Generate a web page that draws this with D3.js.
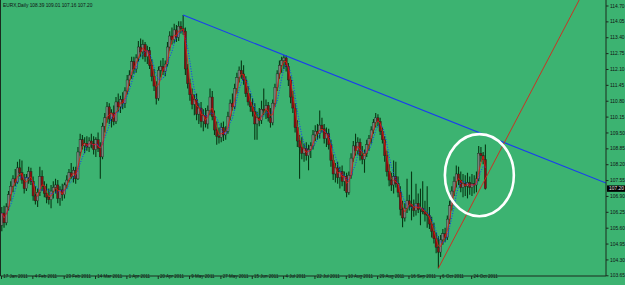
<!DOCTYPE html>
<html><head><meta charset="utf-8">
<script src="https://cdn.jsdelivr.net/npm/d3@7"></script>
<style>html,body{margin:0;padding:0;background:#3cb371;overflow:hidden}svg{display:block}</style>
</head><body>
<svg id="c" width="625" height="285"></svg>
<script>
const symbolName = "EURX,Daily";
const dateLabels = ["17 Jan 2011","4 Feb 2011","23 Feb 2011","14 Mar 2011","1 Apr 2011","20 Apr 2011","9 May 2011","27 May 2011","15 Jun 2011","4 Jul 2011","22 Jul 2011","10 Aug 2011","29 Aug 2011","16 Sep 2011","6 Oct 2011","24 Oct 2011"];
const dateLabelBars = [0,14,28,42,56,70,84,98,112,126,140,154,168,182,196,210];
const priceTicks = [114.70,114.05,113.40,112.75,112.10,111.45,110.80,110.15,109.50,108.85,108.20,107.55,106.90,106.25,105.60,104.95,104.30,103.65];

const opens = [105.70,106.20,105.80,106.45,106.95,107.30,107.60,107.45,108.05,107.85,107.55,107.20,107.65,107.90,107.50,106.90,106.70,107.05,107.70,107.30,107.00,106.85,106.75,107.10,107.25,107.35,106.80,107.15,106.95,107.35,107.55,107.85,107.70,107.95,107.60,108.70,109.20,108.95,109.05,108.90,109.15,109.05,108.80,109.20,108.85,108.50,109.75,110.10,110.55,110.05,110.30,109.95,110.75,110.55,110.85,110.70,111.20,111.65,111.85,112.40,112.10,112.55,113.00,112.80,113.10,112.60,112.85,112.25,111.80,111.40,110.90,112.05,112.20,112.00,112.30,113.00,113.45,113.30,113.70,113.40,113.85,113.75,113.65,112.10,111.50,111.05,110.65,110.85,110.25,110.50,109.95,110.20,109.85,110.40,110.95,110.15,109.60,109.35,109.30,109.70,109.40,109.55,110.15,110.70,110.55,111.30,111.75,112.05,111.90,111.65,111.10,110.75,110.55,110.35,109.85,110.10,110.00,110.45,110.40,110.60,110.10,109.90,110.70,111.35,111.90,112.25,112.45,112.55,112.20,111.65,110.95,110.50,109.70,109.15,108.90,108.65,108.85,108.55,108.80,108.95,109.40,109.55,109.45,109.80,109.65,109.25,109.45,109.00,108.35,107.80,108.05,107.65,107.90,107.50,107.70,107.05,107.75,108.45,108.95,108.75,109.10,108.55,108.40,108.65,109.00,109.25,109.60,109.90,110.10,109.95,109.55,109.20,108.55,107.90,107.55,107.35,107.70,107.40,107.05,106.35,106.00,106.40,106.70,106.55,106.45,106.30,106.60,106.35,106.40,106.25,106.15,106.10,105.75,105.45,105.15,104.80,104.60,105.10,105.35,105.20,105.95,106.50,107.10,107.50,107.80,107.55,107.25,107.40,107.30,107.45,107.25,107.40,107.35,107.60,108.65,108.55,108.39];
const highs = [106.45,106.50,106.60,107.10,107.50,107.75,108.00,108.30,108.40,108.35,107.80,107.80,108.10,108.05,107.70,107.30,107.20,108.10,107.95,107.50,107.40,107.20,107.35,107.50,107.60,107.55,107.30,107.40,107.45,107.75,108.00,108.25,108.10,108.10,108.90,109.45,109.40,109.30,109.35,109.30,109.45,109.35,109.30,109.50,109.10,109.90,110.30,110.75,110.70,110.45,110.60,110.95,111.10,111.00,111.15,111.35,111.85,112.05,112.60,112.60,112.70,113.25,113.35,113.30,113.20,113.05,113.00,112.50,112.10,111.60,112.20,112.45,112.55,112.45,113.20,113.65,113.80,113.95,113.90,114.05,114.05,114.31,113.80,112.30,111.70,111.30,111.05,111.10,110.70,110.75,110.45,110.50,110.60,111.30,111.20,110.40,109.95,109.70,109.90,109.95,109.75,110.35,110.85,111.10,111.50,111.95,112.20,112.45,112.25,111.80,111.40,111.10,110.90,110.70,110.35,110.50,110.80,111.30,110.85,110.75,110.50,110.85,111.50,112.05,112.45,112.60,112.67,112.65,112.35,111.80,111.20,110.70,110.00,109.40,109.30,109.05,109.10,109.00,109.10,109.60,109.80,109.85,110.40,110.10,109.85,109.70,109.65,109.20,108.60,108.25,108.30,108.10,108.15,107.90,107.85,107.90,108.65,109.15,109.45,109.30,109.25,108.95,108.80,109.20,109.40,109.75,110.05,110.30,110.25,110.10,109.70,109.35,108.75,108.20,107.85,108.35,108.30,107.70,107.30,106.70,106.60,107.60,106.95,107.90,106.75,107.40,107.00,107.20,107.50,106.70,107.30,106.45,106.05,105.80,105.40,105.25,105.30,105.55,105.60,106.10,106.70,107.30,107.70,108.15,108.10,107.90,107.80,107.75,107.85,107.70,107.80,107.75,107.90,108.95,108.90,108.70,109.01];
const lows = [105.45,105.60,105.70,106.30,106.70,107.05,107.30,107.40,107.70,107.40,107.00,107.10,107.40,107.35,106.70,106.55,106.45,106.90,107.10,106.85,106.60,106.55,106.40,106.80,107.00,106.60,106.50,106.70,106.80,107.20,107.45,107.60,107.45,107.40,107.55,108.55,108.80,108.65,108.75,108.70,108.85,108.60,108.50,108.70,107.60,108.40,109.50,109.90,109.85,109.70,109.80,109.85,110.35,110.30,110.45,110.50,111.05,111.40,111.70,111.90,111.95,112.40,112.60,112.50,112.40,112.30,112.10,111.60,111.20,110.65,110.80,111.75,111.85,111.80,112.20,112.85,113.10,113.15,113.20,113.25,113.55,113.50,111.85,111.30,110.80,110.45,110.20,110.00,109.85,109.70,109.55,109.70,109.65,110.20,110.00,109.40,109.00,109.05,109.10,109.15,109.20,109.45,110.00,110.40,110.45,111.10,111.55,111.70,111.45,110.95,110.60,110.35,110.15,109.20,109.20,109.75,109.85,110.20,110.05,109.95,109.70,109.80,110.55,111.20,111.70,111.95,112.10,112.00,111.40,110.70,110.30,109.50,108.90,107.60,108.40,108.30,108.35,107.95,108.45,108.80,109.15,109.20,109.25,109.50,109.05,108.90,108.80,108.10,107.55,107.45,107.40,107.20,107.30,107.10,106.85,106.95,107.60,108.30,108.55,108.60,108.35,108.20,107.85,108.50,108.75,109.05,109.45,109.70,109.75,109.40,109.05,108.30,107.70,107.30,107.10,107.00,107.25,106.85,106.10,105.62,105.85,106.20,106.30,105.90,106.05,106.10,106.20,105.70,106.15,105.85,105.60,105.55,105.20,104.95,104.55,103.94,104.40,104.90,105.00,105.10,105.75,106.30,106.90,107.25,107.35,107.05,106.85,106.90,106.80,106.95,106.90,107.00,107.05,107.50,108.30,108.20,107.16];
const closes = [106.20,105.80,106.45,106.95,107.30,107.60,107.45,108.05,107.85,107.55,107.20,107.65,107.90,107.50,106.90,106.70,107.05,107.70,107.30,107.00,106.85,106.75,107.10,107.25,107.35,106.80,107.15,106.95,107.35,107.55,107.85,107.70,107.95,107.60,108.70,109.20,108.95,109.05,108.90,109.15,109.05,108.80,109.20,108.85,108.50,109.75,110.10,110.55,110.05,110.30,109.95,110.75,110.55,110.85,110.70,111.20,111.65,111.85,112.40,112.10,112.55,113.00,112.80,113.10,112.60,112.85,112.25,111.80,111.40,110.90,112.05,112.20,112.00,112.30,113.00,113.45,113.30,113.70,113.40,113.85,113.75,113.65,112.10,111.50,111.05,110.65,110.85,110.25,110.50,109.95,110.20,109.85,110.40,110.95,110.15,109.60,109.35,109.30,109.70,109.40,109.55,110.15,110.70,110.55,111.30,111.75,112.05,111.90,111.65,111.10,110.75,110.55,110.35,109.85,110.10,110.00,110.45,110.40,110.60,110.10,109.90,110.70,111.35,111.90,112.25,112.45,112.55,112.20,111.65,110.95,110.50,109.70,109.15,108.90,108.65,108.85,108.55,108.80,108.95,109.40,109.55,109.45,109.80,109.65,109.25,109.45,109.00,108.35,107.80,108.05,107.65,107.90,107.50,107.70,107.05,107.75,108.45,108.95,108.75,109.10,108.55,108.40,108.65,109.00,109.25,109.60,109.90,110.10,109.95,109.55,109.20,108.55,107.90,107.55,107.35,107.70,107.40,107.05,106.35,106.00,106.40,106.70,106.55,106.45,106.30,106.60,106.35,106.40,106.25,106.15,106.10,105.75,105.45,105.15,104.80,104.60,105.10,105.35,105.20,105.95,106.50,107.10,107.50,107.80,107.55,107.25,107.40,107.30,107.45,107.25,107.40,107.35,107.60,108.65,108.55,108.39,107.20];

const blueTrendPoints = [[81,114.31],[126,112.67]];
const redTrendPoints = [[195,103.94],[256.6,114.70]];
const circleCenter = [213.3,107.75];
const circleRadius = [15.4,1.68]; // bars, price
const fastPeriod = 3, slowPeriod = 5;

// layout
const W=625,H=285, plotL=0.5, plotR=606, plotT=0, plotB=276;
const svg = d3.select("#c");
svg.append("rect").attr("width",W).attr("height",H).attr("fill","#3cb371");

const n = closes.length;
const x = d3.scaleLinear().domain([0,216]).range([1.8,485.4]);
const y = d3.scaleLinear().domain([103.65,114.70]).range([275.3,5.5]);

svg.append("clipPath").attr("id","clip").append("rect")
  .attr("x",plotL).attr("y",plotT).attr("width",plotR-plotL).attr("height",plotB-plotT);
const g = svg.append("g").attr("clip-path","url(#clip)");

const idx = d3.range(n);
// candles
const wickCol = "#073814";
g.append("g").selectAll("line").data(idx).join("line")
  .attr("x1",i=>x(i)).attr("x2",i=>x(i))
  .attr("y1",i=>y(highs[i])).attr("y2",i=>y(lows[i]))
  .attr("stroke",wickCol).attr("stroke-width",1.1);
g.append("g").selectAll("rect").data(idx).join("rect")
  .attr("x",i=>x(i)-1.1).attr("width",2.2)
  .attr("y",i=>y(Math.max(opens[i],closes[i])))
  .attr("height",i=>Math.max(0.8,Math.abs(y(opens[i])-y(closes[i]))))
  .attr("fill",i=>closes[i]>=opens[i]?"#7c7f7c":"#861010")
  .attr("stroke","#14261a").attr("stroke-width",0.4);

// moving averages
function sma(p){return idx.map(i=>d3.mean(closes.slice(Math.max(0,i-p+1),i+1)));}
const fast = sma(fastPeriod), slow = sma(slowPeriod);
const line = d3.line().x((d,i)=>x(i)).y(d=>y(d));
g.append("path").attr("d",line(slow)).attr("fill","none")
  .attr("stroke","#1530ff").attr("stroke-width",1).attr("stroke-dasharray","1,1.6");
g.append("path").attr("d",line(fast)).attr("fill","none")
  .attr("stroke","#e41b14").attr("stroke-width",0.8);

// trend lines
function extend(pts, endIdx){
  const [a,b]=pts; const s=(b[1]-a[1])/(b[0]-a[0]);
  return [[a[0],a[1]],[endIdx,a[1]+s*(endIdx-a[0])]];
}
const blue = extend(blueTrendPoints, x.invert(plotR));
const redS = (redTrendPoints[1][1]-redTrendPoints[0][1])/(redTrendPoints[1][0]-redTrendPoints[0][0]);
const redEndIdx = redTrendPoints[0][0] + (y.invert(plotT-2)-redTrendPoints[0][1])/redS;
const red = extend(redTrendPoints, redEndIdx);
const tl = d3.line().x(d=>x(d[0])).y(d=>y(d[1]));
g.append("path").attr("d",tl(blue)).attr("stroke","#1a3df0").attr("stroke-width",1.1).attr("fill","none");
g.append("path").attr("d",tl(red)).attr("stroke","#d8261c").attr("stroke-width",0.9).attr("fill","none");

// ellipse annotation
svg.append("ellipse")
  .attr("cx",x(circleCenter[0])).attr("cy",y(circleCenter[1]))
  .attr("rx",x(circleCenter[0]+circleRadius[0])-x(circleCenter[0]))
  .attr("ry",y(circleCenter[1]-circleRadius[1])-y(circleCenter[1]))
  .attr("fill","none").attr("stroke","#ffffff").attr("stroke-width",2.6);

// frame
const frameCol="#1a2a1e";
svg.append("line").attr("x1",plotL).attr("x2",plotL).attr("y1",plotT).attr("y2",plotB).attr("stroke",frameCol).attr("stroke-width",1);
svg.append("line").attr("x1",plotL).attr("x2",plotR).attr("y1",plotB).attr("y2",plotB).attr("stroke",frameCol).attr("stroke-width",1);
svg.append("line").attr("x1",plotR).attr("x2",plotR).attr("y1",plotT).attr("y2",plotB).attr("stroke",frameCol).attr("stroke-width",1);

const font = "'Liberation Sans', Arial, sans-serif";
// y axis
const yAxis = d3.axisRight(y).tickValues(priceTicks).tickSize(2.5).tickPadding(1.5).tickFormat(d3.format(".2f"));
const ya = svg.append("g").attr("transform",`translate(${plotR},0)`).call(yAxis);
ya.select(".domain").remove();
ya.selectAll("line").attr("stroke",frameCol);
ya.selectAll("text").attr("font-family",font).attr("font-size",4.9).attr("fill","#111");

// x axis
const xAxis = d3.axisBottom(x).tickValues(dateLabelBars).tickSize(3).tickPadding(0)
  .tickFormat((d,i)=>dateLabels[i]);
const xa = svg.append("g").attr("transform",`translate(0,${plotB})`).call(xAxis);
xa.select(".domain").remove();
xa.selectAll(".tick line").attr("stroke",frameCol).attr("transform","translate(-0.8,0)");
xa.selectAll("text").attr("font-family",font).attr("font-size",4.5).attr("fill","#111")
  .attr("text-anchor","start").attr("dx",1).attr("dy",0).attr("y",2);

// current price marker
const last = n-1;
svg.append("rect").attr("x",plotR+1).attr("y",y(closes[last])-3.2).attr("width",18).attr("height",6.4).attr("fill","#000");
svg.append("text").attr("x",plotR+3).attr("y",y(closes[last])).attr("dy","0.35em")
  .attr("font-family",font).attr("font-size",4.9).attr("fill","#e8e8e8").text(closes[last].toFixed(2));

// title
svg.append("text").attr("x",3).attr("y",7.2).attr("font-family",font).attr("font-size",4.8).attr("fill","#111")
  .text(`${symbolName}  ${opens[last].toFixed(2)} ${highs[last].toFixed(2)} ${lows[last].toFixed(2)} ${closes[last].toFixed(2)}`);
</script>
</body></html>
